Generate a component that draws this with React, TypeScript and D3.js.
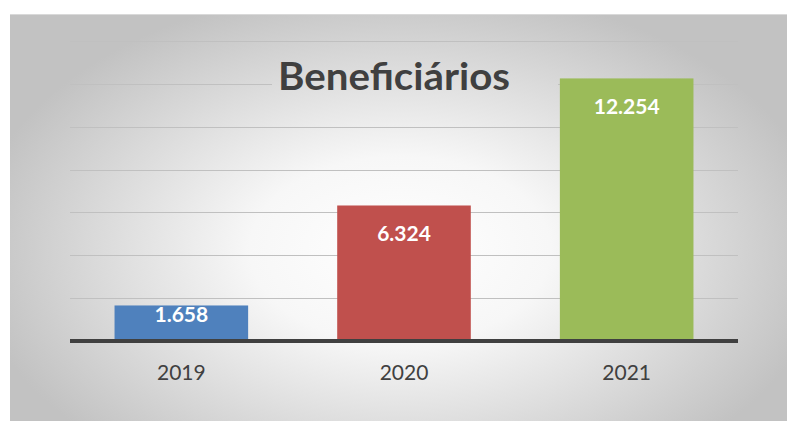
import React from "react";
import * as d3 from "d3";

const categories = ["2019", "2020", "2021"];
const values = [1658, 6324, 12254];
const valueLabels = ["1.658", "6.324", "12.254"];
const colors = ["#4f81bd", "#c0504d", "#9bbb59"];
const gridTicks = [0, 2000, 4000, 6000, 8000, 10000, 12000, 14000];
const title = "Beneficiários";

export default function App() {
  const W = 787, H = 421;
  const left = 70, right = 738, top = 41, base = 341;
  const x = d3.scaleBand<string>().domain(categories).range([left, right]).paddingInner(0.4).paddingOuter(0.2);
  const y = d3.scaleLinear().domain([0, 14000]).range([base, top]);
  const font = "Lato, 'Open Sans', sans-serif";
  return (
    <svg width={W} height={H} style={{ position: "absolute", left: 0, top: 0 }}>
      <defs>
        <radialGradient id="bg" gradientUnits="userSpaceOnUse" cx={400} cy={250} r={430}
          gradientTransform="translate(400 250) scale(1 0.62) translate(-400 -250)">
          <stop offset="0" stopColor="#ffffff" />
          <stop offset="0.35" stopColor="#f7f7f7" />
          <stop offset="1" stopColor="#c2c2c2" />
        </radialGradient>
      </defs>
      <rect x={0} y={0} width={W} height={H} fill="#ffffff" />
      <rect x={10} y={14} width={W - 10} height={H - 14} fill="url(#bg)" />
      <line x1={10} x2={W} y1={14.5} y2={14.5} stroke="#d9d9d9" />
      {gridTicks.slice(1).map((t) => (
        <line key={t} x1={left} x2={right} y1={Math.round(y(t)) + 0.5} y2={Math.round(y(t)) + 0.5} stroke="#c0c0c0" strokeWidth={1} />
      ))}
      <rect x={272} y={52} width={286} height={46} fill="url(#bg)" />
      <text x={394} y={90} textAnchor="middle" fontFamily={font} fontWeight={700} fontSize={38}
        fill="#404040" textLength={232} lengthAdjust="spacingAndGlyphs">{title}</text>
      {categories.map((c, i) => {
        const h = base - y(values[i]);
        return (
          <g key={c}>
            <rect x={x(c)!} y={y(values[i])} width={x.bandwidth()} height={h} fill={colors[i]} />
            <text x={x(c)! + x.bandwidth() / 2} y={y(values[i]) + Math.min(36, h * 0.46)} textAnchor="middle" fontFamily={font}
              fontWeight={700} fontSize={21} fill="#ffffff">{valueLabels[i]}</text>
            <text x={x(c)! + x.bandwidth() / 2} y={380} textAnchor="middle" fontFamily={font}
              fontSize={21} fill="#404040">{c}</text>
          </g>
        );
      })}
      <line x1={left} x2={right} y1={base} y2={base} stroke="#404040" strokeWidth={4} />
    </svg>
  );
}
